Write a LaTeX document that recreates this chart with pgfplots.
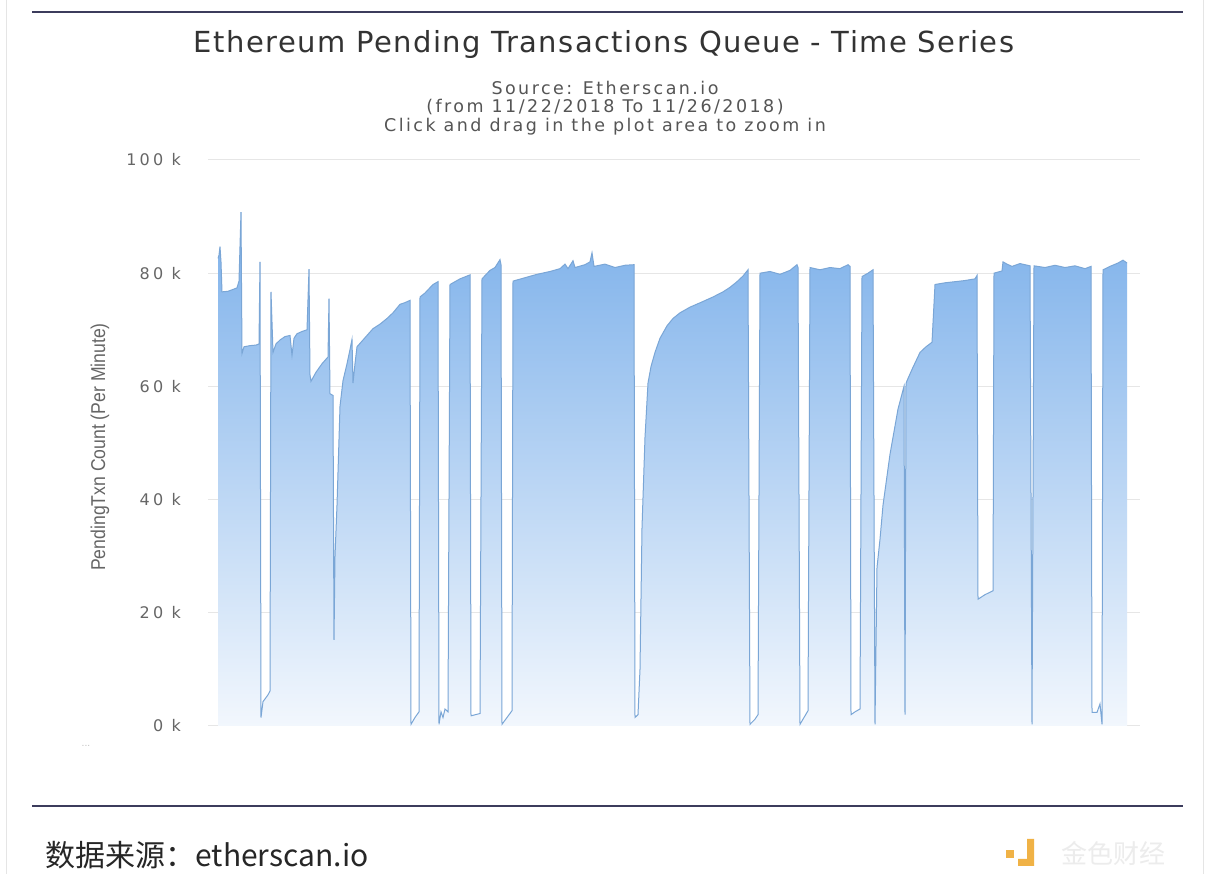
\documentclass[border=0pt]{standalone}
\usepackage{pgfplots}
\pgfplotsset{compat=1.18}
\usepackage{fontspec}
\setmainfont{DejaVu Sans}
\newfontfamily\titfont{DejaVu Sans}[LetterSpace=5]
\newfontfamily\subfont{DejaVu Sans}[LetterSpace=14]
\newfontfamily\tickfont{DejaVu Sans}[LetterSpace=20]
\newfontfamily\labfont{Liberation Sans}[FakeStretch=0.88]
\newfontfamily\cjk{Noto Sans CJK SC}
\definecolor{hcblue}{RGB}{124,176,234}
\definecolor{hcpale}{RGB}{242,247,253}
\definecolor{hcline}{RGB}{122,166,214}
\definecolor{gridc}{RGB}{230,230,230}
\definecolor{rulec}{RGB}{60,60,92}
\definecolor{txtc}{RGB}{51,51,51}
\definecolor{subc}{RGB}{85,85,85}
\definecolor{tickc}{RGB}{102,102,102}
\definecolor{logoc}{RGB}{240,178,70}

% pending transactions queue, x = time (arbitrary units), y = count in thousands
\pgfplotstableread{
x y
218 82.6
219 83.2
220 84.7
221 82.0
222 76.7
228 76.8
234 77.2
237 77.4
239 78.6
241 90.8
242 65.8
244 67.0
250 67.2
256 67.3
259 67.5
260 82.0
261 1.5
263 4.3
268 5.5
270 6.2
271 76.7
273 66.0
276 67.5
280 68.2
285 68.8
290 69.0
292 65.5
294 68.5
297 69.3
302 69.7
307 70.0
309 80.7
310 62.0
311 60.9
316 62.5
322 64.0
328 65.2
329 75.5
330 58.7
333 58.4
334 15.2
335 30.0
337 39.0
340 56.5
343 61.0
347 64.0
350 66.5
352 68.3
353 60.6
355 64.0
357 67.0
362 68.0
367 69.0
373 70.2
380 71.0
387 72.0
393 73.0
400 74.5
405 74.8
410 75.2
411 0.3
415 1.5
419 2.5
420 75.8
425 76.5
433 78.0
438 78.5
439 0.3
441 2.5
443 1.5
445 3.0
448 2.5
450 78.0
460 79.0
470 79.7
471 1.8
480 2.2
482 79.0
490 80.5
495 81.0
500 82.4
501 81.5
502 0.3
507 1.5
512 2.7
513 78.6
525 79.2
537 79.8
550 80.3
560 80.8
565 81.6
568 80.8
573 82.2
575 81.0
585 81.5
590 82.0
592 83.6
594 81.2
605 81.6
615 81.0
625 81.4
634 81.5
635 1.5
638 2.0
640 10.0
642 35.0
645 51.0
648 60.6
651 63.5
655 66.0
660 68.5
667 70.7
673 72.0
680 73.0
690 74.0
703 75.0
713 75.8
723 76.7
730 77.5
737 78.5
743 79.5
748 80.6
750 0.3
755 1.2
758 2.0
760 80.0
770 80.3
780 79.8
790 80.5
797 81.5
798 81.0
800 0.3
805 1.8
808 2.7
810 81.0
820 80.6
830 81.0
840 80.8
848 81.5
850 81.2
851 2.0
855 2.5
860 3.0
862 79.4
868 80.0
873 80.6
875 0.3
877 28.0
880 33.0
883 39.0
890 48.0
898 56.0
904 60.0
905 2.0
906 60.5
907 61.0
912 63.0
920 66.0
926 67.0
932 67.8
935 78.0
945 78.3
955 78.5
965 78.7
975 79.0
977 79.6
978 22.4
985 23.2
993 23.9
994 80.0
1002 80.4
1003 82.0
1007 81.6
1012 81.2
1020 81.7
1030 81.3
1032 0.3
1034 81.3
1045 81.0
1055 81.4
1065 81.0
1075 81.3
1085 80.8
1091 81.2
1092 2.4
1097 2.4
1100 3.9
1102 0.3
1103 80.6
1110 81.2
1118 81.8
1123 82.3
1127 81.8
}\queue

\begin{document}
\begin{tikzpicture}[x=1pt,y=1pt]
\useasboundingbox (0,0) rectangle (1208,874);
\fill[white] (0,0) rectangle (1208,874);
\draw[gray!20, line width=1pt] (6,0) -- (6,874);
\draw[gray!20, line width=1pt] (1203,0) -- (1203,874);
% rules
\draw[rulec, line width=2.5pt] (32,862) -- (1183,862);
\draw[rulec, line width=2.5pt] (32,68) -- (1183,68);
% titles
\node[text=txtc, font=\titfont\fontsize{29}{34}\selectfont] at (604,829) {Ethereum Pending Transactions Queue - Time Series};
\node[text=subc, font=\subfont\fontsize{17.5}{20}\selectfont] at (605,786) {Source: Etherscan.io};
\node[text=subc, font=\subfont\fontsize{17.5}{20}\selectfont] at (605,767) {(from 11/22/2018 To 11/26/2018)};
\node[text=subc, font=\subfont\fontsize{17.5}{20}\selectfont] at (605,747) {Click and drag in the plot area to zoom in};
\node[text=tickc, rotate=90, font=\labfont\fontsize{20}{24}\selectfont] at (100,427) {PendingTxn Count (Per Minute)};
\node[text=gray!50, font=\fontsize{9}{10}\selectfont] at (86,128) {...};
\begin{axis}[
  at={(208pt,148pt)}, anchor=south west,
  scale only axis, width=932pt, height=566pt,
  xmin=208, xmax=1140, ymin=0, ymax=100,
  axis line style={draw=none},
  xtick=\empty,
  ytick={0,20,40,60,80,100},
  yticklabels={0 k,20 k,40 k,60 k,80 k,100 k},
  major tick length=0pt,
  ymajorgrids,
  major grid style={gridc, line width=1pt},
  yticklabel style={text=tickc, anchor=east, inner sep=0pt, xshift=-27pt,
    font=\tickfont\fontsize{16}{19}\selectfont},
  clip=false,
]
\addplot[draw=none, top color=hcblue, bottom color=hcpale] table[x=x,y=y] {\queue} \closedcycle;
\addplot[hcline, line width=1pt, mark=none] table[x=x,y=y] {\queue};
\end{axis}
% footer
\node[anchor=west, text=black!85, font=\cjk\fontsize{30}{34}\selectfont] at (42,19) {数据来源：etherscan.io};
\fill[logoc] (1006,16) rectangle (1014,24);
\fill[logoc] (1018,8) -- (1034,8) -- (1034,35) -- (1027,35) -- (1027,15) -- (1018,15) -- cycle;
\node[anchor=west, text=gray!15, font=\cjk\fontsize{26}{30}\selectfont] at (1058,21) {金色财经};
\end{tikzpicture}
\end{document}
